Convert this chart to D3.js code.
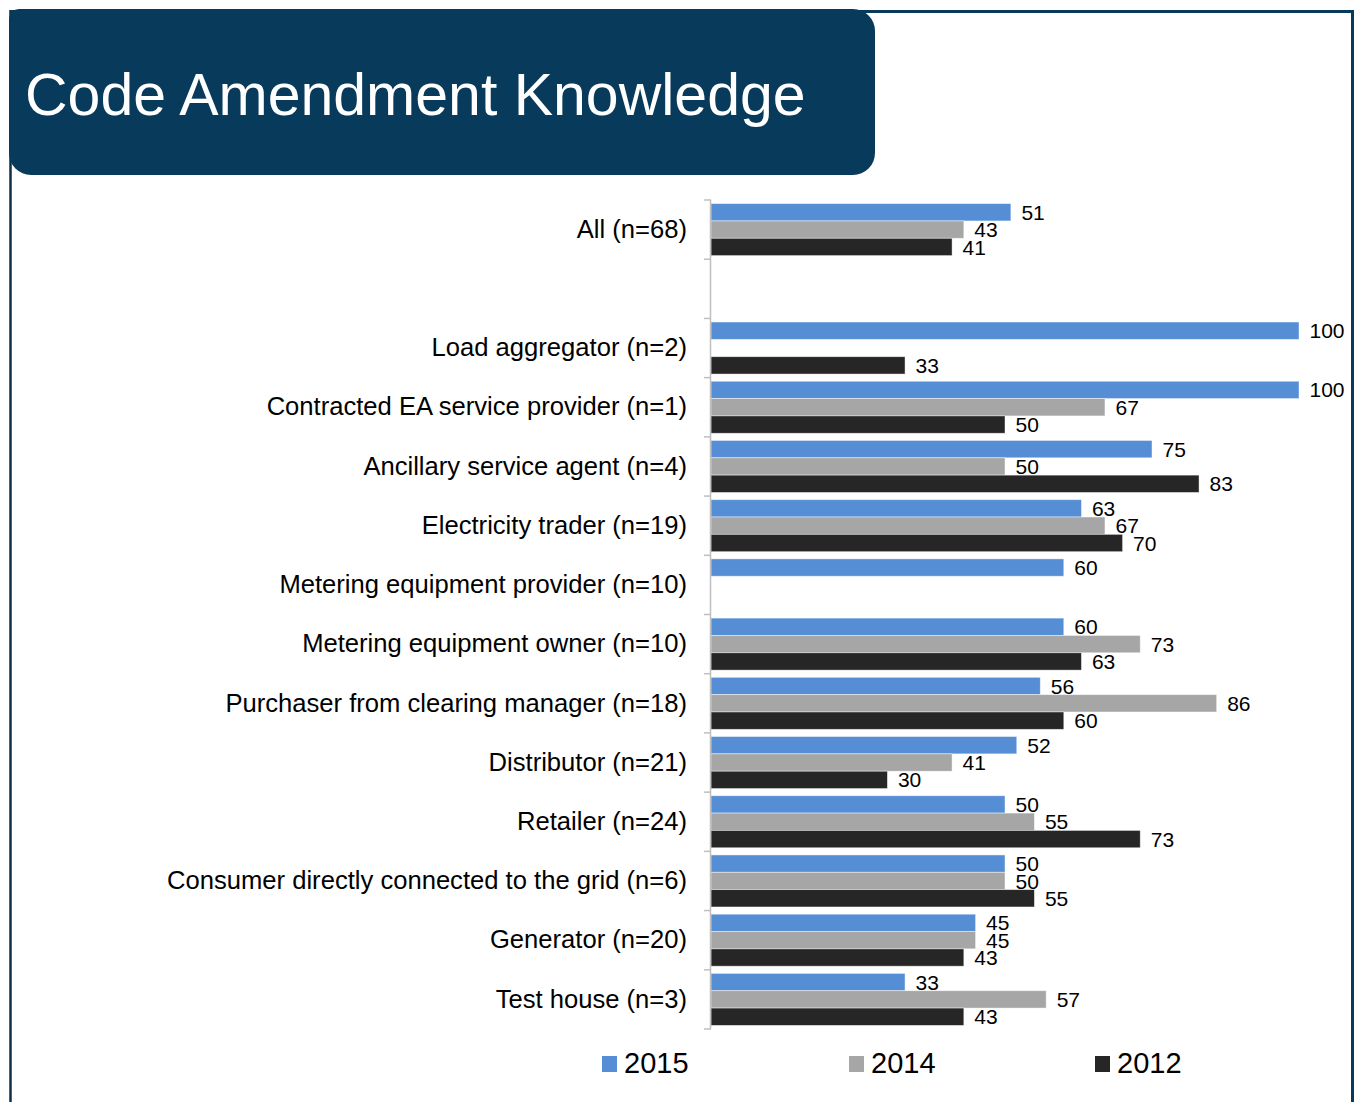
<!DOCTYPE html>
<html>
<head>
<meta charset="utf-8">
<script src="https://cdn.jsdelivr.net/npm/d3@7"></script>
<style>
  html, body { margin: 0; padding: 0; background: #fff; }
  svg { display: block; font-family: "Liberation Sans", Arial, Helvetica, sans-serif; }
</style>
</head>
<body>
<svg id="chart" width="1359" height="1102"></svg>
<script>
// Survey categories, top to bottom (the empty entry is a spacer row)
const categories = [
  "All (n=68)",
  "",
  "Load aggregator (n=2)",
  "Contracted EA service provider (n=1)",
  "Ancillary service agent (n=4)",
  "Electricity trader (n=19)",
  "Metering equipment provider (n=10)",
  "Metering equipment owner (n=10)",
  "Purchaser from clearing manager (n=18)",
  "Distributor (n=21)",
  "Retailer (n=24)",
  "Consumer directly connected to the grid (n=6)",
  "Generator (n=20)",
  "Test house (n=3)"
];

const seriesNames = ["2015", "2014", "2012"];
const seriesColors = ["#558ed5", "#a6a6a6", "#262626"];

// Percentages per series (null = no response that year)
const values2015 = [51, null, 100, 100, 75, 63, 60, 60, 56, 52, 50, 50, 45, 33];
const values2014 = [43, null, null, 67, 50, 67, null, 73, 86, 41, 55, 50, 45, 57];
const values2012 = [41, null, 33, 50, 83, 70, null, 63, 60, 30, 73, 55, 43, 43];

const seriesValues = [values2015, values2014, values2012];

const svg = d3.select("#chart");
const W = 1359, H = 1102;
const navy = "#083a5b";

// Slide frame
svg.append("line").attr("x1", 10.5).attr("x2", 10.5).attr("y1", 10).attr("y2", H)
  .attr("stroke", "#0d2f47").attr("stroke-width", 2.5);
svg.append("line").attr("x1", 10).attr("x2", 1354).attr("y1", 11.5).attr("y2", 11.5)
  .attr("stroke", navy).attr("stroke-width", 3);
svg.append("line").attr("x1", 1352.5).attr("x2", 1352.5).attr("y1", 10).attr("y2", H)
  .attr("stroke", navy).attr("stroke-width", 3);

// Title banner with rounded corners
function roundedRect(x, y, w, h, rtl, rtr, rbr, rbl) {
  const p = d3.path();
  p.moveTo(x + rtl, y);
  p.lineTo(x + w - rtr, y);
  p.arcTo(x + w, y, x + w, y + rtr, rtr);
  p.lineTo(x + w, y + h - rbr);
  p.arcTo(x + w, y + h, x + w - rbr, y + h, rbr);
  p.lineTo(x + rbl, y + h);
  p.arcTo(x, y + h, x, y + h - rbl, rbl);
  p.lineTo(x, y + rtl);
  p.arcTo(x, y, x + rtl, y, rtl);
  p.closePath();
  return p.toString();
}
svg.append("path")
  .attr("d", roundedRect(9, 9, 866, 166, 10, 22, 22, 22))
  .attr("fill", navy);
svg.append("text")
  .attr("x", 25).attr("y", 115)
  .attr("fill", "#fff")
  .attr("font-size", 59)
  .text("Code Amendment Knowledge");

// Plot area
const x0 = 711, xMax = 1299;
const yTop = 200, yBottom = 1029;

const x = d3.scaleLinear().domain([0, 100]).range([x0, xMax]);
const y = d3.scaleBand().domain(d3.range(categories.length)).range([yTop, yBottom]).padding(0);
const yInner = d3.scaleBand().domain(seriesNames).range([3.6, y.bandwidth() - 3.6]).padding(0);

// Bars
const barData = [];
categories.forEach((c, i) => {
  seriesNames.forEach((s, k) => {
    const v = seriesValues[k][i];
    if (v !== null && v !== undefined) barData.push({ i, s, k, v });
  });
});

const g = svg.append("g");
g.selectAll("rect.bar").data(barData).join("rect")
  .attr("class", "bar")
  .attr("x", x(0))
  .attr("y", d => y(d.i) + yInner(d.s))
  .attr("width", d => x(d.v) - x(0))
  .attr("height", yInner.bandwidth())
  .attr("fill", d => seriesColors[d.k])
  .attr("stroke", "#ffffff")
  .attr("stroke-opacity", 0.55)
  .attr("stroke-width", 0.8);

// Value labels
g.selectAll("text.val").data(barData).join("text")
  .attr("class", "val")
  .attr("x", d => x(d.v) + 10.5)
  .attr("y", d => y(d.i) + yInner(d.s) + yInner.bandwidth() / 2)
  .attr("dy", "0.36em")
  .attr("font-size", 21)
  .attr("fill", "#000")
  .text(d => d.v);

// Category axis: labels centred on rows
const axis = d3.axisLeft(y)
  .tickSize(0)
  .tickPadding(24)
  .tickFormat(i => categories[i]);
const ax = svg.append("g").attr("transform", `translate(${x0},0)`).call(axis);
ax.select(".domain").remove();
ax.selectAll("text")
  .attr("font-size", 25.6)
  .attr("font-family", "\"Liberation Sans\", Arial, Helvetica, sans-serif")
  .attr("fill", "#000");

// Axis line and row-boundary tick marks
const boundaries = d3.range(categories.length + 1).map(i => yTop + i * y.step());
svg.append("line")
  .attr("x1", x0 - 0.5).attr("x2", x0 - 0.5)
  .attr("y1", yTop).attr("y2", yBottom)
  .attr("stroke", "#bfbfbf").attr("stroke-width", 1.5);
svg.selectAll("line.tick-b").data(boundaries).join("line")
  .attr("class", "tick-b")
  .attr("x1", x0 - 7).attr("x2", x0)
  .attr("y1", d => d).attr("y2", d => d)
  .attr("stroke", "#bfbfbf").attr("stroke-width", 1.5);

// Legend
const legendX = [602, 849, 1095];
const legend = svg.append("g");
seriesNames.forEach((s, k) => {
  legend.append("rect")
    .attr("x", legendX[k]).attr("y", 1056)
    .attr("width", 15).attr("height", 16)
    .attr("fill", seriesColors[k]);
  legend.append("text")
    .attr("x", legendX[k] + 22).attr("y", 1073)
    .attr("font-size", 29)
    .attr("fill", "#000")
    .text(s);
});
</script>
</body>
</html>
